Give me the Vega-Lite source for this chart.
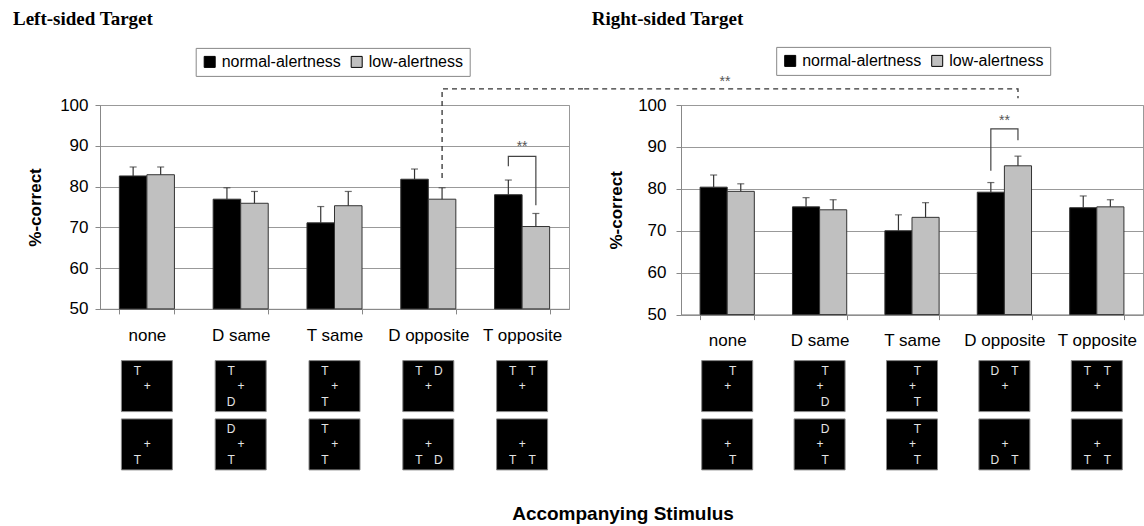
{
  "$schema": "https://vega.github.io/schema/vega-lite/v6.json",
  "padding": {"left": 12, "top": 9, "right": 0, "bottom": 0},
  "background": "white",
  "title": {"text": "Accompanying Stimulus", "orient": "bottom", "anchor": "middle", "frame": "bounds", "dx": 45, "offset": 33, "font": "Liberation Sans", "fontSize": 19, "fontWeight": "bold", "color": "#000"},
  "datasets": {
    "bars": [
      {"side": "Left", "cond": "none", "group": "normal-alertness", "value": 82.6, "err": 84.8},
      {"side": "Left", "cond": "none", "group": "low-alertness", "value": 82.9, "err": 84.8},
      {"side": "Left", "cond": "D same", "group": "normal-alertness", "value": 76.9, "err": 79.7},
      {"side": "Left", "cond": "D same", "group": "low-alertness", "value": 75.9, "err": 78.8},
      {"side": "Left", "cond": "T same", "group": "normal-alertness", "value": 71.1, "err": 75.1},
      {"side": "Left", "cond": "T same", "group": "low-alertness", "value": 75.3, "err": 78.8},
      {"side": "Left", "cond": "D opposite", "group": "normal-alertness", "value": 81.8, "err": 84.3},
      {"side": "Left", "cond": "D opposite", "group": "low-alertness", "value": 76.9, "err": 79.7},
      {"side": "Left", "cond": "T opposite", "group": "normal-alertness", "value": 78.0, "err": 81.6},
      {"side": "Left", "cond": "T opposite", "group": "low-alertness", "value": 70.2, "err": 73.4},
      {"side": "Right", "cond": "none", "group": "normal-alertness", "value": 80.4, "err": 83.3},
      {"side": "Right", "cond": "none", "group": "low-alertness", "value": 79.4, "err": 81.2},
      {"side": "Right", "cond": "D same", "group": "normal-alertness", "value": 75.7, "err": 77.9},
      {"side": "Right", "cond": "D same", "group": "low-alertness", "value": 75.0, "err": 77.4},
      {"side": "Right", "cond": "T same", "group": "normal-alertness", "value": 70.0, "err": 73.8},
      {"side": "Right", "cond": "T same", "group": "low-alertness", "value": 73.2, "err": 76.7},
      {"side": "Right", "cond": "D opposite", "group": "normal-alertness", "value": 79.2, "err": 81.5},
      {"side": "Right", "cond": "D opposite", "group": "low-alertness", "value": 85.5, "err": 87.8},
      {"side": "Right", "cond": "T opposite", "group": "normal-alertness", "value": 75.5, "err": 78.3},
      {"side": "Right", "cond": "T opposite", "group": "low-alertness", "value": 75.7, "err": 77.4}
    ],
    "brackets": [
      {"side": "Left", "cond": "T opposite", "group": "normal-alertness", "value": 85.0, "ord": 1},
      {"side": "Left", "cond": "T opposite", "group": "normal-alertness", "value": 87.4, "ord": 2},
      {"side": "Left", "cond": "T opposite", "group": "low-alertness", "value": 87.4, "ord": 3},
      {"side": "Left", "cond": "T opposite", "group": "low-alertness", "value": 75.4, "ord": 4},
      {"side": "Right", "cond": "D opposite", "group": "normal-alertness", "value": 84.3, "ord": 1},
      {"side": "Right", "cond": "D opposite", "group": "normal-alertness", "value": 94.3, "ord": 2},
      {"side": "Right", "cond": "D opposite", "group": "low-alertness", "value": 94.3, "ord": 3},
      {"side": "Right", "cond": "D opposite", "group": "low-alertness", "value": 91.6, "ord": 4}
    ],
    "stars": [
      {"side": "Left", "cond": "T opposite", "value": 89.6, "label": "**"},
      {"side": "Right", "cond": "D opposite", "value": 96.1, "label": "**"}
    ],
    "connector": [
      {"side": "Left", "xi": 3.647, "value": 82.1, "ord": 1},
      {"side": "Left", "xi": 3.647, "value": 103.95, "ord": 2},
      {"side": "Left", "xi": 5.178, "value": 103.95, "ord": 3},
      {"side": "Right", "xi": -1.048, "value": 103.84, "ord": 1},
      {"side": "Right", "xi": 3.647, "value": 103.84, "ord": 2},
      {"side": "Right", "xi": 3.647, "value": 101.6, "ord": 3}
    ],
    "connstar": [
      {"side": "Right", "xi": 0.475, "value": 105.6, "label": "**"}
    ],
    "glyphs": [
      {"side": "Left", "cond": "none", "row": 1, "h": "L2", "v": "top", "glyph": "T"},
      {"side": "Left", "cond": "none", "row": 1, "h": "C", "v": "mid", "glyph": "+"},
      {"side": "Left", "cond": "none", "row": 2, "h": "C", "v": "mid", "glyph": "+"},
      {"side": "Left", "cond": "none", "row": 2, "h": "L2", "v": "bot", "glyph": "T"},
      {"side": "Left", "cond": "D same", "row": 1, "h": "L2", "v": "top", "glyph": "T"},
      {"side": "Left", "cond": "D same", "row": 1, "h": "C", "v": "mid", "glyph": "+"},
      {"side": "Left", "cond": "D same", "row": 1, "h": "L2", "v": "bot", "glyph": "D"},
      {"side": "Left", "cond": "D same", "row": 2, "h": "L2", "v": "top", "glyph": "D"},
      {"side": "Left", "cond": "D same", "row": 2, "h": "C", "v": "mid", "glyph": "+"},
      {"side": "Left", "cond": "D same", "row": 2, "h": "L2", "v": "bot", "glyph": "T"},
      {"side": "Left", "cond": "T same", "row": 1, "h": "L2", "v": "top", "glyph": "T"},
      {"side": "Left", "cond": "T same", "row": 1, "h": "C", "v": "mid", "glyph": "+"},
      {"side": "Left", "cond": "T same", "row": 1, "h": "L2", "v": "bot", "glyph": "T"},
      {"side": "Left", "cond": "T same", "row": 2, "h": "L2", "v": "top", "glyph": "T"},
      {"side": "Left", "cond": "T same", "row": 2, "h": "C", "v": "mid", "glyph": "+"},
      {"side": "Left", "cond": "T same", "row": 2, "h": "L2", "v": "bot", "glyph": "T"},
      {"side": "Left", "cond": "D opposite", "row": 1, "h": "L2", "v": "top", "glyph": "T"},
      {"side": "Left", "cond": "D opposite", "row": 1, "h": "R2", "v": "top", "glyph": "D"},
      {"side": "Left", "cond": "D opposite", "row": 1, "h": "C", "v": "mid", "glyph": "+"},
      {"side": "Left", "cond": "D opposite", "row": 2, "h": "C", "v": "mid", "glyph": "+"},
      {"side": "Left", "cond": "D opposite", "row": 2, "h": "L2", "v": "bot", "glyph": "T"},
      {"side": "Left", "cond": "D opposite", "row": 2, "h": "R2", "v": "bot", "glyph": "D"},
      {"side": "Left", "cond": "T opposite", "row": 1, "h": "L2", "v": "top", "glyph": "T"},
      {"side": "Left", "cond": "T opposite", "row": 1, "h": "R2", "v": "top", "glyph": "T"},
      {"side": "Left", "cond": "T opposite", "row": 1, "h": "C", "v": "mid", "glyph": "+"},
      {"side": "Left", "cond": "T opposite", "row": 2, "h": "C", "v": "mid", "glyph": "+"},
      {"side": "Left", "cond": "T opposite", "row": 2, "h": "L2", "v": "bot", "glyph": "T"},
      {"side": "Left", "cond": "T opposite", "row": 2, "h": "R2", "v": "bot", "glyph": "T"},
      {"side": "Right", "cond": "none", "row": 1, "h": "R1", "v": "top", "glyph": "T"},
      {"side": "Right", "cond": "none", "row": 1, "h": "C", "v": "mid", "glyph": "+"},
      {"side": "Right", "cond": "none", "row": 2, "h": "C", "v": "mid", "glyph": "+"},
      {"side": "Right", "cond": "none", "row": 2, "h": "R1", "v": "bot", "glyph": "T"},
      {"side": "Right", "cond": "D same", "row": 1, "h": "R1", "v": "top", "glyph": "T"},
      {"side": "Right", "cond": "D same", "row": 1, "h": "C", "v": "mid", "glyph": "+"},
      {"side": "Right", "cond": "D same", "row": 1, "h": "R1", "v": "bot", "glyph": "D"},
      {"side": "Right", "cond": "D same", "row": 2, "h": "R1", "v": "top", "glyph": "D"},
      {"side": "Right", "cond": "D same", "row": 2, "h": "C", "v": "mid", "glyph": "+"},
      {"side": "Right", "cond": "D same", "row": 2, "h": "R1", "v": "bot", "glyph": "T"},
      {"side": "Right", "cond": "T same", "row": 1, "h": "R1", "v": "top", "glyph": "T"},
      {"side": "Right", "cond": "T same", "row": 1, "h": "C", "v": "mid", "glyph": "+"},
      {"side": "Right", "cond": "T same", "row": 1, "h": "R1", "v": "bot", "glyph": "T"},
      {"side": "Right", "cond": "T same", "row": 2, "h": "R1", "v": "top", "glyph": "T"},
      {"side": "Right", "cond": "T same", "row": 2, "h": "C", "v": "mid", "glyph": "+"},
      {"side": "Right", "cond": "T same", "row": 2, "h": "R1", "v": "bot", "glyph": "T"},
      {"side": "Right", "cond": "D opposite", "row": 1, "h": "L2", "v": "top", "glyph": "D"},
      {"side": "Right", "cond": "D opposite", "row": 1, "h": "R2", "v": "top", "glyph": "T"},
      {"side": "Right", "cond": "D opposite", "row": 1, "h": "C", "v": "mid", "glyph": "+"},
      {"side": "Right", "cond": "D opposite", "row": 2, "h": "C", "v": "mid", "glyph": "+"},
      {"side": "Right", "cond": "D opposite", "row": 2, "h": "L2", "v": "bot", "glyph": "D"},
      {"side": "Right", "cond": "D opposite", "row": 2, "h": "R2", "v": "bot", "glyph": "T"},
      {"side": "Right", "cond": "T opposite", "row": 1, "h": "L2", "v": "top", "glyph": "T"},
      {"side": "Right", "cond": "T opposite", "row": 1, "h": "R2", "v": "top", "glyph": "T"},
      {"side": "Right", "cond": "T opposite", "row": 1, "h": "C", "v": "mid", "glyph": "+"},
      {"side": "Right", "cond": "T opposite", "row": 2, "h": "C", "v": "mid", "glyph": "+"},
      {"side": "Right", "cond": "T opposite", "row": 2, "h": "L2", "v": "bot", "glyph": "T"},
      {"side": "Right", "cond": "T opposite", "row": 2, "h": "R2", "v": "bot", "glyph": "T"}
    ]
  },
  "spacing": -8,
  "resolve": {"scale": {"fill": "independent"}, "legend": {"fill": "independent"}},
  "hconcat": [
    {
      "width": 469,
      "height": 203.9,
      "title": {"text": "Left-sided Target", "anchor": "start", "frame": "group", "dx": -87, "offset": 18.2, "font": "Liberation Serif", "fontSize": 19, "fontWeight": "bold", "color": "#000"},
      "resolve": {"scale": {"x": "independent", "y": "independent", "xOffset": "independent", "yOffset": "independent"}},
      "layer": [
        {
          "data": {"name": "bars"},
          "transform": [{"filter": "datum.side === 'Left'"}],
          "encoding": {
            "x": {"field": "cond", "type": "nominal", "scale": {"type": "band", "domain": ["none", "D same", "T same", "D opposite", "T opposite"], "paddingInner": 0.413, "paddingOuter": 0.2065}, "axis": {"title": null, "labelAngle": 0, "tickBand": "extent", "labelFontSize": 17, "labelPadding": 14, "tickSize": 5, "grid": false}}
          },
          "layer": [
            {
              "mark": {"type": "bar", "stroke": "#333", "strokeWidth": 1},
              "encoding": {
                "xOffset": {"field": "group", "type": "nominal", "scale": {"domain": ["normal-alertness", "low-alertness"], "paddingInner": 0, "paddingOuter": 0}},
                "y": {"field": "value", "type": "quantitative", "scale": {"domain": [50, 100], "zero": false, "nice": false}, "axis": {"title": "%-correct", "values": [50, 60, 70, 80, 90, 100], "grid": true, "labelFontSize": 17, "labelPadding": 7, "tickSize": 5, "titleFontSize": 17, "titleFontWeight": "bold", "titlePadding": 15}},
                "y2": {"datum": 50},
                "fill": {"field": "group", "type": "nominal", "scale": {"domain": ["normal-alertness", "low-alertness"], "range": ["#000000", "#c0c0c0"]}, "legend": {"orient": "none", "legendX": 95.7, "legendY": -57.1, "direction": "horizontal", "title": null}}
              }
            },
            {
              "mark": {"type": "rule", "color": "#333", "strokeWidth": 1.2},
              "encoding": {
                "xOffset": {"field": "group", "type": "nominal", "scale": {"domain": ["normal-alertness", "low-alertness"], "paddingInner": 0, "paddingOuter": 0}},
                "y": {"field": "value", "type": "quantitative"},
                "y2": {"field": "err"}
              }
            },
            {
              "mark": {"type": "tick", "color": "#333", "thickness": 1.2, "size": 7},
              "encoding": {
                "xOffset": {"field": "group", "type": "nominal", "scale": {"domain": ["normal-alertness", "low-alertness"], "paddingInner": 0, "paddingOuter": 0}},
                "y": {"field": "err", "type": "quantitative"}
              }
            },
            {
              "data": {"name": "brackets"},
              "transform": [{"filter": "datum.side === 'Left'"}],
              "mark": {"type": "line", "color": "#444", "strokeWidth": 1.2},
              "encoding": {
                "xOffset": {"field": "group", "type": "nominal", "scale": {"domain": ["normal-alertness", "low-alertness"], "paddingInner": 0, "paddingOuter": 0}},
                "y": {"field": "value", "type": "quantitative"},
                "order": {"field": "ord", "type": "quantitative"}
              }
            },
            {
              "data": {"name": "stars"},
              "transform": [{"filter": "datum.side === 'Left'"}],
              "mark": {"type": "text", "fontSize": 14, "color": "#555", "baseline": "middle"},
              "encoding": {
                "y": {"field": "value", "type": "quantitative"},
                "text": {"field": "label"}
              }
            }
          ]
        },
        {
          "data": {"name": "glyphs"},
          "transform": [{"filter": "datum.side === 'Left'"}],
          "encoding": {
            "x": {"field": "cond", "type": "nominal", "scale": {"type": "band", "domain": ["none", "D same", "T same", "D opposite", "T opposite"], "paddingInner": 0.4563, "paddingOuter": 0.2282}, "axis": null},
            "y": {"field": "row", "type": "ordinal", "scale": {"type": "band", "range": [255.6, 364.9], "paddingInner": 0.125, "paddingOuter": 0}, "axis": null}
          },
          "layer": [
            {
              "transform": [{"filter": "datum.glyph === '+'"}],
              "mark": {"type": "square", "filled": true, "fill": "#000", "stroke": "#888", "strokeWidth": 1, "size": 2601, "opacity": 1}
            },
            {
              "mark": {"type": "text", "color": "#e4e4e4", "fontSize": 12, "baseline": "middle", "align": "center"},
              "encoding": {
                "xOffset": {"field": "h", "type": "nominal", "scale": {"type": "point", "domain": ["L2", "L1", "C", "R1", "R2"], "range": [16, 35.5], "padding": 0}},
                "yOffset": {"field": "v", "type": "nominal", "scale": {"type": "point", "domain": ["top", "mid", "bot"], "range": [10, 41], "padding": 0}},
                "text": {"field": "glyph"}
              }
            }
          ]
        },
        {
          "data": {"name": "connector"},
          "transform": [{"filter": "datum.side === 'Left'"}],
          "mark": {"type": "line", "color": "#333", "strokeWidth": 1.3, "strokeDash": [5, 4]},
          "encoding": {
            "x": {"field": "xi", "type": "quantitative", "scale": {"domain": [0, 5], "nice": false, "zero": false}, "axis": null},
            "y": {"field": "value", "type": "quantitative", "scale": {"domain": [50, 100], "nice": false, "zero": false}, "axis": null},
            "order": {"field": "ord", "type": "quantitative"}
          }
        }
      ]
    },
    {
      "width": 462,
      "height": 209.6,
      "title": {"text": "Right-sided Target", "anchor": "start", "frame": "group", "dx": -89.2, "offset": 17, "font": "Liberation Serif", "fontSize": 19, "fontWeight": "bold", "color": "#000"},
      "resolve": {"scale": {"x": "independent", "y": "independent", "xOffset": "independent", "yOffset": "independent"}},
      "layer": [
        {
          "data": {"name": "bars"},
          "transform": [{"filter": "datum.side === 'Right'"}],
          "encoding": {
            "x": {"field": "cond", "type": "nominal", "scale": {"type": "band", "domain": ["none", "D same", "T same", "D opposite", "T opposite"], "paddingInner": 0.413, "paddingOuter": 0.2065}, "axis": {"title": null, "labelAngle": 0, "tickBand": "extent", "labelFontSize": 17, "labelPadding": 13, "tickSize": 5, "grid": false}}
          },
          "layer": [
            {
              "mark": {"type": "bar", "stroke": "#333", "strokeWidth": 1},
              "encoding": {
                "xOffset": {"field": "group", "type": "nominal", "scale": {"domain": ["normal-alertness", "low-alertness"], "paddingInner": 0, "paddingOuter": 0}},
                "y": {"field": "value", "type": "quantitative", "scale": {"domain": [50, 100], "zero": false, "nice": false}, "axis": {"title": "%-correct", "values": [50, 60, 70, 80, 90, 100], "grid": true, "labelFontSize": 17, "labelPadding": 10, "tickSize": 5, "titleFontSize": 17, "titleFontWeight": "bold", "titlePadding": 12}},
                "y2": {"datum": 50},
                "fill": {"field": "group", "type": "nominal", "scale": {"domain": ["normal-alertness", "low-alertness"], "range": ["#000000", "#c0c0c0"]}, "legend": {"orient": "none", "legendX": 95.2, "legendY": -58.1, "direction": "horizontal", "title": null}}
              }
            },
            {
              "mark": {"type": "rule", "color": "#333", "strokeWidth": 1.2},
              "encoding": {
                "xOffset": {"field": "group", "type": "nominal", "scale": {"domain": ["normal-alertness", "low-alertness"], "paddingInner": 0, "paddingOuter": 0}},
                "y": {"field": "value", "type": "quantitative"},
                "y2": {"field": "err"}
              }
            },
            {
              "mark": {"type": "tick", "color": "#333", "thickness": 1.2, "size": 7},
              "encoding": {
                "xOffset": {"field": "group", "type": "nominal", "scale": {"domain": ["normal-alertness", "low-alertness"], "paddingInner": 0, "paddingOuter": 0}},
                "y": {"field": "err", "type": "quantitative"}
              }
            },
            {
              "data": {"name": "brackets"},
              "transform": [{"filter": "datum.side === 'Right'"}],
              "mark": {"type": "line", "color": "#444", "strokeWidth": 1.2},
              "encoding": {
                "xOffset": {"field": "group", "type": "nominal", "scale": {"domain": ["normal-alertness", "low-alertness"], "paddingInner": 0, "paddingOuter": 0}},
                "y": {"field": "value", "type": "quantitative"},
                "order": {"field": "ord", "type": "quantitative"}
              }
            },
            {
              "data": {"name": "stars"},
              "transform": [{"filter": "datum.side === 'Right'"}],
              "mark": {"type": "text", "fontSize": 14, "color": "#555", "baseline": "middle"},
              "encoding": {
                "y": {"field": "value", "type": "quantitative"},
                "text": {"field": "label"}
              }
            }
          ]
        },
        {
          "data": {"name": "glyphs"},
          "transform": [{"filter": "datum.side === 'Right'"}],
          "encoding": {
            "x": {"field": "cond", "type": "nominal", "scale": {"type": "band", "domain": ["none", "D same", "T same", "D opposite", "T opposite"], "paddingInner": 0.448, "paddingOuter": 0.224}, "axis": null},
            "y": {"field": "row", "type": "ordinal", "scale": {"type": "band", "range": [255.6, 364.9], "paddingInner": 0.125, "paddingOuter": 0}, "axis": null}
          },
          "layer": [
            {
              "transform": [{"filter": "datum.glyph === '+'"}],
              "mark": {"type": "square", "filled": true, "fill": "#000", "stroke": "#888", "strokeWidth": 1, "size": 2601, "opacity": 1}
            },
            {
              "mark": {"type": "text", "color": "#e4e4e4", "fontSize": 12, "baseline": "middle", "align": "center"},
              "encoding": {
                "xOffset": {"field": "h", "type": "nominal", "scale": {"type": "point", "domain": ["L2", "L1", "C", "R1", "R2"], "range": [16, 36], "padding": 0}},
                "yOffset": {"field": "v", "type": "nominal", "scale": {"type": "point", "domain": ["top", "mid", "bot"], "range": [10, 41], "padding": 0}},
                "text": {"field": "glyph"}
              }
            }
          ]
        },
        {
          "data": {"name": "connector"},
          "transform": [{"filter": "datum.side === 'Right'"}],
          "encoding": {
            "x": {"field": "xi", "type": "quantitative", "scale": {"domain": [0, 5], "nice": false, "zero": false}, "axis": null},
            "y": {"field": "value", "type": "quantitative", "scale": {"domain": [50, 100], "nice": false, "zero": false}, "axis": null}
          },
          "layer": [
            {
              "mark": {"type": "line", "color": "#333", "strokeWidth": 1.3, "strokeDash": [5, 4]},
              "encoding": {"order": {"field": "ord", "type": "quantitative"}}
            },
            {
              "data": {"name": "connstar"},
              "transform": [{"filter": "datum.side === 'Right'"}],
              "mark": {"type": "text", "fontSize": 14, "color": "#555", "baseline": "middle"},
              "encoding": {"text": {"field": "label"}}
            }
          ]
        }
      ]
    }
  ],
  "config": {
    "font": "Liberation Sans",
    "view": {"stroke": "#999"},
    "axis": {"labelFont": "Liberation Sans", "titleFont": "Liberation Sans", "labelColor": "#000", "titleColor": "#000", "domainColor": "#888", "tickColor": "#888", "gridColor": "#999"},
    "legend": {"strokeColor": "#888", "padding": 6, "fillColor": "#fff", "symbolType": "square", "symbolSize": 121, "symbolStrokeColor": "#000", "symbolStrokeWidth": 1, "labelFont": "Liberation Sans", "labelFontSize": 16, "labelColor": "#000", "columnPadding": 7, "labelOffset": 4}
  }
}
